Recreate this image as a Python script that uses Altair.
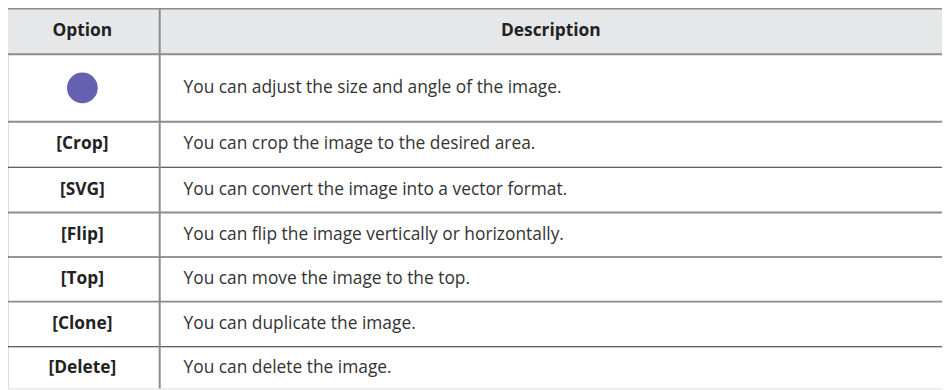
import altair as alt
import pandas as pd

# ---- table content ----
headers = ["Option", "Description"]
options = ["", "[Crop]", "[SVG]", "[Flip]", "[Top]", "[Clone]", "[Delete]"]
descriptions = [
    "You can adjust the size and angle of the image.",
    "You can crop the image to the desired area.",
    "You can convert the image into a vector format.",
    "You can flip the image vertically or horizontally.",
    "You can move the image to the top.",
    "You can duplicate the image.",
    "You can delete the image.",
]
icon_rows = [0]  # row that shows the purple circle icon instead of text

# ---- layout (pixel-like table coordinates) ----
X0, X_DIV, X1 = 5, 161, 950
HEADER_TOP, HEADER_BOTTOM = 7, 53
row_heights = [68, 46, 45.5, 45, 45, 45.5, 42]
FONT = "Open Sans"
FS = 17.5

bounds = [HEADER_BOTTOM]
for h in row_heights:
    bounds.append(bounds[-1] + h)

W, H = 942, 382
xs = alt.Scale(domain=[8, 950], range=[0, W], nice=False, zero=False)
ys = alt.Scale(domain=[8, 390], range=[0, H], nice=False, zero=False)

# header background
hdr = pd.DataFrame({"x": [X0], "x2": [X1], "y": [HEADER_TOP], "y2": [HEADER_BOTTOM]})
hdr_bg = alt.Chart(hdr).mark_rect(color="#e6e7e9").encode(
    x=alt.X("x:Q", scale=xs, axis=None), x2="x2:Q",
    y=alt.Y("y:Q", scale=ys, axis=None), y2="y2:Q")

# horizontal lines
line_y = [HEADER_TOP, HEADER_BOTTOM] + bounds[1:-1]
line_kind = ["gray", "gray"] + ["gray" if i % 2 == 0 else "dark" for i in range(len(bounds) - 2)]
hl = pd.DataFrame({"y": line_y, "kind": line_kind, "x": X0, "x2": X1})
hlines_gray = alt.Chart(hl[hl.kind == "gray"]).mark_rule(color="#8c8c8c", strokeWidth=2).encode(
    x=alt.X("x:Q", scale=xs, axis=None), x2="x2:Q", y=alt.Y("y:Q", scale=ys, axis=None))
hlines_dark = alt.Chart(hl[hl.kind == "dark"]).mark_rule(color="#2e2e2e", strokeWidth=1.2).encode(
    x=alt.X("x:Q", scale=xs, axis=None), x2="x2:Q", y=alt.Y("y:Q", scale=ys, axis=None))

# vertical divider
vl = pd.DataFrame({"x": [X_DIV], "y": [HEADER_TOP], "y2": [390]})
vline = alt.Chart(vl).mark_rule(color="#8c8c8c", strokeWidth=2).encode(
    x=alt.X("x:Q", scale=xs, axis=None), y=alt.Y("y:Q", scale=ys, axis=None), y2="y2:Q")

# header text
ht = pd.DataFrame({"label": headers,
                   "x": [(X0 + X_DIV) / 2, (X_DIV + X1) / 2],
                   "y": [(HEADER_TOP + HEADER_BOTTOM) / 2] * 2})
htext = alt.Chart(ht).mark_text(font=FONT, fontSize=FS, fontWeight="bold", color="#222222",
                                align="center", baseline="middle").encode(
    x=alt.X("x:Q", scale=xs, axis=None), y=alt.Y("y:Q", scale=ys, axis=None), text="label:N")

centers = [(bounds[i] + bounds[i + 1]) / 2 for i in range(len(options))]
rows = pd.DataFrame({"opt": options, "desc": descriptions, "yc": centers,
                     "xo": (X0 + X_DIV) / 2, "xd": 185})

otext = alt.Chart(rows).mark_text(font=FONT, fontSize=FS, fontWeight="bold", color="#222222",
                                  align="center", baseline="middle").encode(
    x=alt.X("xo:Q", scale=xs, axis=None), y=alt.Y("yc:Q", scale=ys, axis=None), text="opt:N")
dtext = alt.Chart(rows).mark_text(font=FONT, fontSize=FS, color="#333333",
                                  align="left", baseline="middle").encode(
    x=alt.X("xd:Q", scale=xs, axis=None), y=alt.Y("yc:Q", scale=ys, axis=None), text="desc:N")

icon = alt.Chart(rows.iloc[icon_rows]).mark_point(filled=True, shape="circle", size=960,
                                                  color="#6561b0", opacity=1).encode(
    x=alt.X("xo:Q", scale=xs, axis=None), y=alt.Y("yc:Q", scale=ys, axis=None))

chart = alt.layer(hdr_bg, hlines_gray, hlines_dark, vline, htext, otext, dtext, icon).properties(
    width=W, height=H, padding=0, autosize=alt.AutoSizeParams(type="none")
).configure_view(stroke=None).configure(background="white")

chart.save("out.html", embed_options={"renderer": "svg", "actions": False})
